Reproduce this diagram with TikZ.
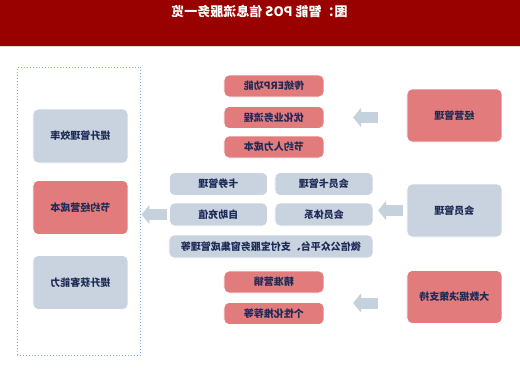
\documentclass[tikz,border=0pt]{standalone}
\usepackage{fontspec}
\setmainfont{Noto Sans CJK SC}
\usepackage{tikz}
\usetikzlibrary{arrows.meta,calc,positioning}
\definecolor{posred}{HTML}{990000}
\definecolor{boxred}{HTML}{E27B7B}
\definecolor{boxgray}{HTML}{C8D3DF}
\definecolor{arrowgray}{HTML}{C5D2DE}
\definecolor{textnavy}{HTML}{1F2B56}
\definecolor{frameblue}{HTML}{6FA8EC}

\begin{document}
\begin{tikzpicture}[x=1pt, y=-1pt, xscale=-1,
  font=\bfseries\fontsize{10}{12}\selectfont,
  every node/.style={transform shape, text=textnavy, inner sep=0pt},
  redbox/.style={fill=boxred, draw=white, thick, rounded corners=5pt},
  graybox/.style={fill=boxgray, draw=white, thick, rounded corners=5pt},
  blockarrow/.style={arrowgray, line width=11pt,
    -{Triangle[length=8pt,width=19pt]}}]
  \path[use as bounding box] (0,0) rectangle (520,372);
  % the whole sheet is shown mirrored: x runs from the right edge
  \fill[posred] (0,0) rectangle (520,46);
  \draw[black!15] (0,46.5) -- (520,46.5);
  \node[text=white, font=\bfseries\fontsize{13}{15}\selectfont] (title)
    at (260.5,12) {图：智能 POS 信息流服务一览};
  % sources
  \node[redbox, minimum width=95, minimum height=53] (jy) at (65.5,115.5) {经营管理};
  \node[graybox, minimum width=95, minimum height=53] (hy) at (65.5,210.5) {会员管理};
  \node[redbox, minimum width=95, minimum height=53] (dsj) at (65.5,297) {大数据决策支持};
  % services
  \foreach \y/\lab/\nm in {86/传统ERP功能/erp, 117.5/优化业务流程/yh,
      147/节约人力成本/rl, 282/精准营销/jz, 313.5/个性化推荐等/gx} {
    \node[redbox, minimum width=100, minimum height=22] (\nm) at (246,\y) {\lab};
  }
  \foreach \x/\y/\lab/\nm in {196/184/会员卡管理/hyk, 301.5/184/卡券管理/kq,
      196/214.5/会员体系/tx, 301.5/214.5/自助充值/zc} {
    \node[graybox, minimum width=98, minimum height=23] (\nm) at (\x,\y) {\lab};
  }
  \node[graybox, minimum width=204, minimum height=23] (wx) at (249,246.5)
    {微信公众平台、支付宝服务窗集成管理等};
  % results
  \node[draw=frameblue, line width=1pt, dotted, minimum width=123,
    minimum height=288] (frame) at (440.5,211) {};
  \node[graybox, minimum width=95, minimum height=54] (xl) at (439.5,136) {提升管理效率};
  \node[redbox, minimum width=95, minimum height=54] (cb) at (439.5,207.5) {节约经营成本};
  \node[graybox, minimum width=95, minimum height=54] (hk) at (439.5,282.5) {提升获客能力};
  % arrows
  \draw[blockarrow, shorten <=29pt, shorten >=28.7pt] (jy.east |- yh) -- (yh.west);
  \draw[blockarrow, shorten <=4pt, shorten >=4.7pt] (hy.east) -- (hy.east -| tx.west);
  \draw[blockarrow, shorten <=29pt, shorten >=28.7pt]
    ([yshift=-6pt]dsj.east) -- ([yshift=-6pt]dsj.east -| jz.west);
  \draw[blockarrow, shorten <=2.3pt] (zc.east) -- (zc -| frame.west);
\end{tikzpicture}
\end{document}
